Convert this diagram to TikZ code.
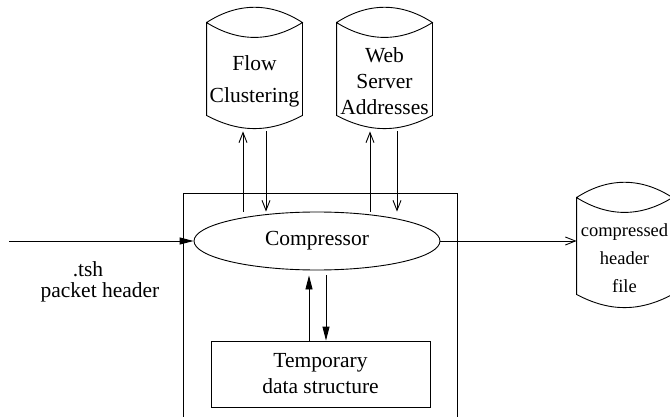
\documentclass[tikz,border=0pt]{standalone}
\usepackage{fontspec}
\setmainfont{Liberation Serif}
\usetikzlibrary{shapes.geometric,arrows.meta}

\begin{document}
\begin{tikzpicture}[x=1pt, y=-1pt, line width=0.9pt,
    every node/.style={font=\fontsize{21.5}{26}\selectfont, inner sep=0pt},
    open arrow/.style={-{Straight Barb[length=10pt,width=8pt]}},
    solid arrow/.style={-{Triangle[length=14pt,width=7pt]}},
    % disk store: lens on top, curved base
    store/.style={minimum width=95, minimum height=94, align=center,
        append after command={\pgfextra{
            \draw ([yshift=11pt]\tikzlastnode.north west) to[bend left=33] ([yshift=11pt]\tikzlastnode.north east)
                to[bend left=32] ([yshift=11pt]\tikzlastnode.north west)
                -- ([yshift=13pt]\tikzlastnode.south west) to[bend right=28] ([yshift=13pt]\tikzlastnode.south east)
                -- ([yshift=11pt]\tikzlastnode.north east);
        }}}]

    \useasboundingbox (0,0) rectangle (670,417);

    % stores
    \node[store] (flow) at (254.5,81) {Flow\\[6pt]Clustering};
    \node[store] (web) at (384.5,81) {Web\\Server\\Addresses};
    \node[store, minimum height=98, font=\fontsize{18.5}{28}\selectfont] (cfile) at (624.5,258) {compressed\\header\\file};

    % compressor block
    \node[draw, minimum width=274, minimum height=230, anchor=north west] (frame) at (183,193) {};
    \node[draw, ellipse, minimum width=246, minimum height=58] (comp) at (317,241) {Compressor};
    \node[draw, minimum width=219, minimum height=66, align=center] (temp) at (320.5,374) {Temporary\\data structure};

    % input
    \coordinate (src) at (9,241);
    \node[align=center, font=\fontsize{21.5}{21.5}\selectfont] (tsh) at (100,282) {.tsh\hspace*{24pt}\\packet header};
    \draw[solid arrow] (src) -- (comp.west);

    % lookups
    \draw[open arrow] ([xshift=-11.5pt]flow.south |- comp.north) -- ([xshift=-11.5pt,yshift=-3pt]flow.south);
    \draw[open arrow] ([xshift=11.5pt,yshift=-3pt]flow.south) -- ([xshift=11.5pt]flow.south |- comp.north);
    \draw[open arrow] ([xshift=-14.5pt]web.south |- comp.north) -- ([xshift=-14.5pt,yshift=-3pt]web.south);
    \draw[open arrow] ([xshift=12.5pt,yshift=-3pt]web.south) -- ([xshift=12.5pt]web.south |- comp.north);

    % temporary data
    \draw[solid arrow] ([xshift=-11.5pt]temp.north) -- ([xshift=-11.5pt,yshift=-5pt]temp.north |- comp.south);
    \draw[solid arrow] ([xshift=5.5pt,yshift=-5pt]temp.north |- comp.south) -- ([xshift=5.5pt]temp.north);

    % output
    \draw[open arrow] (comp.east) -- (comp.east -| cfile.west);

\end{tikzpicture}
\end{document}
